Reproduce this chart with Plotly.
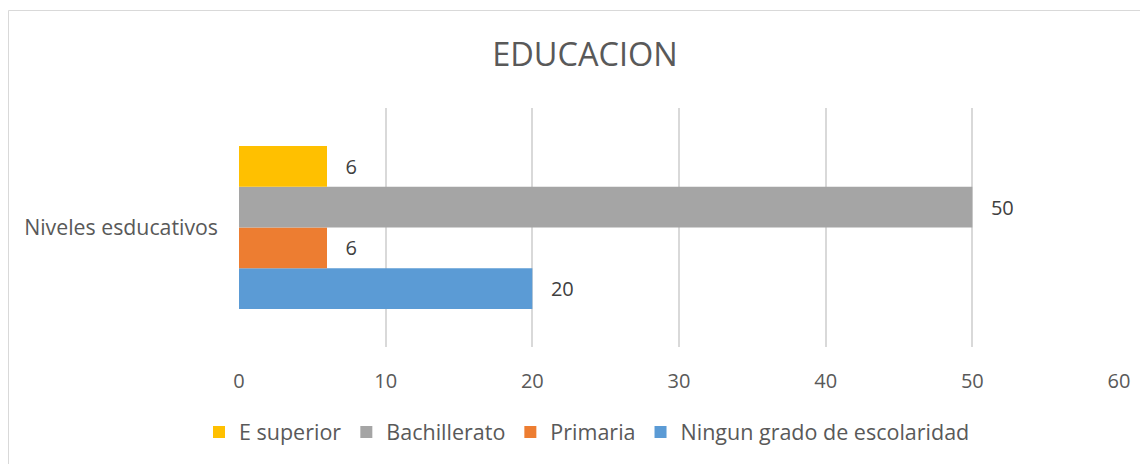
import plotly.graph_objects as go

category = ["Niveles esducativos"]
series_names = ["Ningun grado de escolaridad", "Primaria", "Bachillerato", "E superior"]
series_values = [[20], [6], [50], [6]]
series_colors = ["#5B9BD5", "#ED7D31", "#A5A5A5", "#FFC000"]
x_ticks = [0, 10, 20, 30, 40, 50, 60]

FONT = "'Open Sans', 'Noto Sans', sans-serif"
pad = "\u00a0" * 3

# page body has an 8px margin; figure is sized/positioned to compensate
W, H = 1140, 456
L, R, T, B = 231, 29, 100, 117
PW, PH = W - L - R, H - T - B

fig = go.Figure()
for name, vals, col in zip(series_names, series_values, series_colors):
    fig.add_trace(go.Bar(
        y=category, x=vals, name=name, orientation="h",
        marker=dict(color=col, line=dict(width=0)),
        text=vals, texttemplate=pad + "%{x}", textposition="outside",
        textfont=dict(size=20, color="#404040", family=FONT),
        cliponaxis=False,
    ))

fig.update_layout(
    width=W, height=H,
    margin=dict(l=L, r=R, t=T, b=B),
    paper_bgcolor="white", plot_bgcolor="white",
    barmode="group", bargap=0.317, bargroupgap=0,
    font=dict(family=FONT, color="#595959", size=20),
    title=dict(text="EDUCACION", x=577 / W, xanchor="center", y=1 - 47 / H, yanchor="middle",
               font=dict(size=32.5, color="#595959", family=FONT)),
    legend=dict(orientation="h", traceorder="reversed", xref="container", yref="container",
                x=579 / W, xanchor="center", y=1 - 424 / H, yanchor="middle",
                font=dict(size=21.5, color="#595959", family=FONT),
                itemwidth=30),
    xaxis=dict(range=[0, 60], tickvals=x_ticks, showgrid=True, gridcolor="#D9D9D9", gridwidth=1.8,
               zeroline=False, showline=False, ticks="", ticklabelstandoff=20,
               tickfont=dict(size=20, color="#595959", family=FONT)),
    yaxis=dict(showgrid=False, zeroline=False, showline=False, ticks="", ticklabelstandoff=20,
               tickfont=dict(size=21.3, color="#595959", family=FONT)),
    shapes=[dict(type="rect", xref="paper", yref="paper",
                 x0=(0.5 - L) / PW, x1=(1150 - L) / PW,
                 y0=(T + PH - 470) / PH, y1=(T + PH - 2.5) / PH,
                 line=dict(color="#D9D9D9", width=1), fillcolor="rgba(0,0,0,0)", layer="below")],
)

fig.write_html("out.html")
